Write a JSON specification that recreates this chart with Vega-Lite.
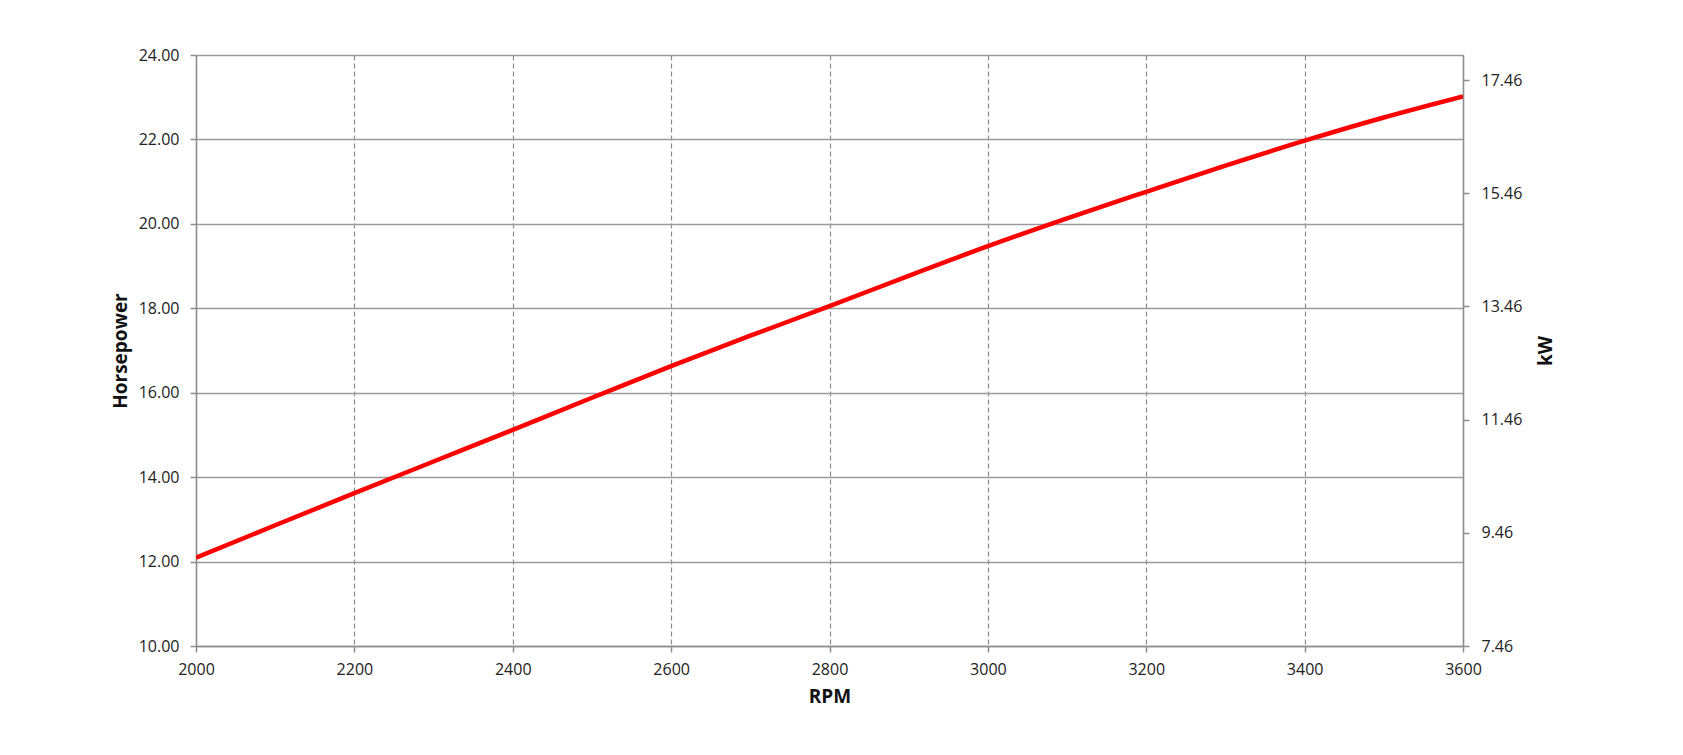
{
  "$schema": "https://vega.github.io/schema/vega-lite/v6.json",
  "autosize": {"type": "none"},
  "width": 1267,
  "height": 591,
  "padding": {"left": 196, "top": 55, "right": 220, "bottom": 109},
  "background": "white",
  "config": {
    "view": {"stroke": null},
    "font": "Open Sans",
    "axis": {
      "labelFont": "Open Sans",
      "labelFontSize": 16,
      "labelColor": "#222222",
      "labelFlush": false,
      "titleFont": "Open Sans",
      "titleFontSize": 19,
      "titleFontWeight": "bold",
      "titleColor": "#111111",
      "domainColor": "#8c8c8c",
      "domainWidth": 1.5,
      "tickColor": "#8c8c8c",
      "tickWidth": 1.5,
      "tickSize": 6,
      "labelPadding": 11
    }
  },
  "layer": [
    {
      "data": {
        "values": [
          {"rpm": 2000, "hp": 12.09},
          {"rpm": 2100, "hp": 12.86},
          {"rpm": 2200, "hp": 13.62},
          {"rpm": 2300, "hp": 14.37},
          {"rpm": 2400, "hp": 15.12},
          {"rpm": 2500, "hp": 15.88},
          {"rpm": 2600, "hp": 16.63},
          {"rpm": 2700, "hp": 17.35},
          {"rpm": 2800, "hp": 18.05},
          {"rpm": 2900, "hp": 18.77},
          {"rpm": 3000, "hp": 19.47},
          {"rpm": 3100, "hp": 20.13},
          {"rpm": 3200, "hp": 20.76},
          {"rpm": 3300, "hp": 21.38},
          {"rpm": 3400, "hp": 21.97},
          {"rpm": 3500, "hp": 22.52},
          {"rpm": 3600, "hp": 23.02}
        ]
      },
      "mark": {"type": "line", "color": "#ff0000", "strokeWidth": 4.5, "clip": true, "interpolate": "monotone"},
      "encoding": {
        "x": {
          "field": "rpm",
          "type": "quantitative",
          "title": "RPM",
          "scale": {"domain": [2000, 3600], "nice": false, "zero": false},
          "axis": {
            "values": [2000, 2200, 2400, 2600, 2800, 3000, 3200, 3400, 3600],
            "format": "d",
            "grid": true,
            "gridColor": "#8c8c8c",
            "gridDash": [5, 3],
            "gridWidth": 1.2,
            "labelPadding": 9,
            "titlePadding": 10
          }
        },
        "y": {
          "field": "hp",
          "type": "quantitative",
          "title": "Horsepower",
          "scale": {"domain": [10, 24], "nice": false, "zero": false},
          "axis": {
            "values": [10, 12, 14, 16, 18, 20, 22, 24],
            "format": ".2f",
            "grid": true,
            "gridColor": "#9a9a9a",
            "gridWidth": 1.5,
            "titlePadding": 8
          }
        }
      }
    },
    {
      "data": {"values": [{"kw": 7.46}, {"kw": 17.904}]},
      "mark": {"type": "rule", "opacity": 0},
      "encoding": {
        "y": {
          "field": "kw",
          "type": "quantitative",
          "title": "kW",
          "scale": {"domain": [7.46, 17.904], "nice": false, "zero": false},
          "axis": {
            "orient": "right",
            "values": [7.46, 9.46, 11.46, 13.46, 15.46, 17.46],
            "format": ".2f",
            "grid": false,
            "labelPadding": 12,
            "titlePadding": 34,
            "titleAngle": 270
          }
        }
      }
    }
  ],
  "resolve": {"scale": {"y": "independent"}}
}
